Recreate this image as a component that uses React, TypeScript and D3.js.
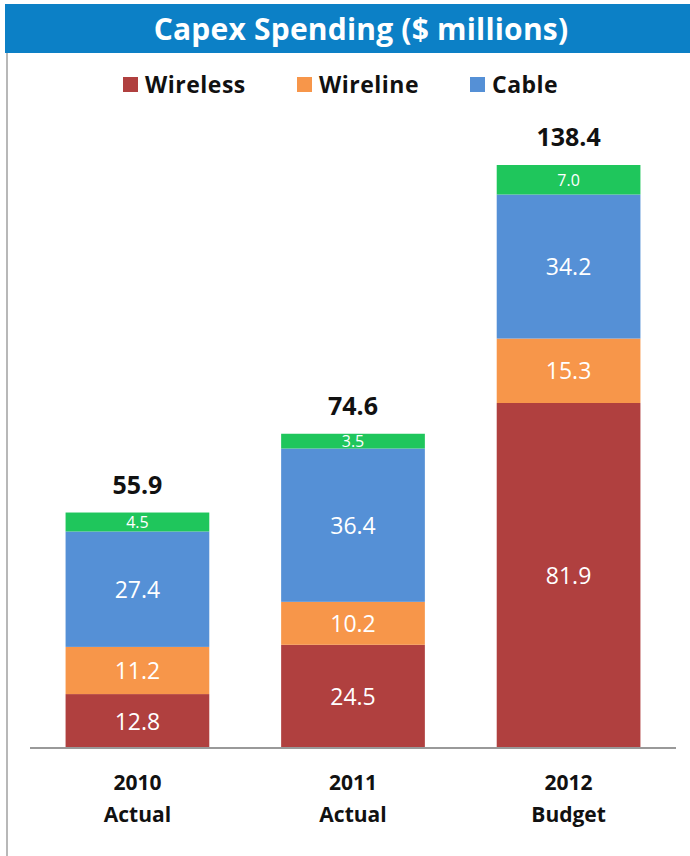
import React from "react";
import * as d3 from "d3";

const categories = ["2010|Actual", "2011|Actual", "2012|Budget"];
const seriesNames = ["Wireless", "Wireline", "Cable", "Other"];
const wireless = [12.8, 24.5, 81.9];
const wireline = [11.2, 10.2, 15.3];
const cable = [27.4, 36.4, 34.2];
const other = [4.5, 3.5, 7.0];
const totals = [55.9, 74.6, 138.4];
const colors = ["#b0403f", "#f7964a", "#5590d6", "#1fc65c"];
const legendNames = ["Wireless", "Wireline", "Cable"];

const W = 690;
const H = 856;
const FONT = "'Open Sans', Lato, sans-serif";

export default function App() {
  const values = [wireless, wireline, cable, other];
  const rows = categories.map((c, i) => {
    const r: any = { cat: c };
    seriesNames.forEach((s, j) => (r[s] = values[j][i]));
    return r;
  });
  const stack = d3.stack<any>().keys(seriesNames)(rows);

  const x = d3.scaleBand().domain(categories).range([30, 676]).paddingInner(1 / 3).paddingOuter(0.165);
  const y = d3.scaleLinear().domain([0, 138.4]).range([748, 165]);

  const legendX = [123, 297, 470];

  return (
    <svg width={W} height={H} style={{ position: "absolute", left: 0, top: 0, background: "#fff" }} fontFamily={FONT}>
      <rect x={5} y={4} width={685} height={49} fill="#0c80c6" />
      <text x={361} y={40} textAnchor="middle" fill="#fff" fontSize={30} fontWeight={700} letterSpacing={0.2}>
        Capex Spending ($ millions)
      </text>
      <line x1={7} x2={7} y1={53} y2={856} stroke="#b8b8b8" strokeWidth={2} />

      {legendNames.map((n, i) => (
        <g key={n}>
          <rect x={legendX[i]} y={77} width={15} height={15} fill={colors[i]} />
          <text x={legendX[i] + 22} y={93} fontSize={23} fontWeight={700} fill="#111" letterSpacing={0.5}>
            {n}
          </text>
        </g>
      ))}

      {stack.map((s, j) => (
        <g key={s.key} fill={colors[j]}>
          {s.map((d, i) => (
            <g key={i}>
              <rect
                x={x(categories[i])}
                y={y(d[1])}
                width={x.bandwidth()}
                height={y(d[0]) - y(d[1])}
              />
              <text
                x={(x(categories[i]) as number) + x.bandwidth() / 2}
                y={(y(d[0]) + y(d[1])) / 2}
                dy="0.37em"
                textAnchor="middle"
                fill="#fff"
                fontSize={j === 3 ? 16 : 23}
              >
                {values[j][i].toFixed(1)}
              </text>
            </g>
          ))}
        </g>
      ))}

      <line x1={30} x2={676} y1={748} y2={748} stroke="#999" strokeWidth={2} />

      {categories.map((c, i) => {
        const cx = (x(c) as number) + x.bandwidth() / 2;
        const [a, b] = c.split("|");
        return (
          <g key={c}>
            <text x={cx} y={y(totals[i]) - 19} textAnchor="middle" fontSize={25} fontWeight={700} fill="#111">
              {totals[i].toFixed(1)}
            </text>
            <text x={cx} y={790} textAnchor="middle" fontSize={21} fontWeight={700} fill="#111">
              {a}
            </text>
            <text x={cx} y={822} textAnchor="middle" fontSize={21} fontWeight={700} fill="#111">
              {b}
            </text>
          </g>
        );
      })}
    </svg>
  );
}
